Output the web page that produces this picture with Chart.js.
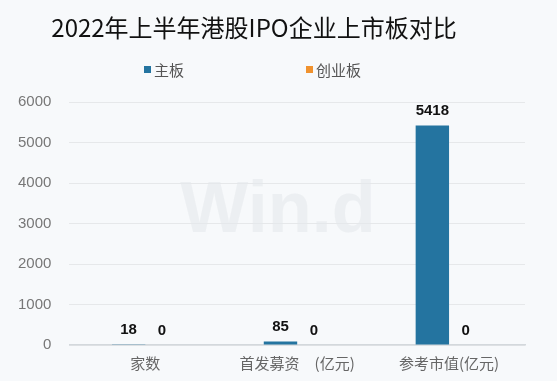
<!DOCTYPE html>
<html><head><meta charset="utf-8">
<script src="https://cdn.jsdelivr.net/npm/chart.js@4/dist/chart.umd.min.js"></script>
<style>html,body{margin:0;padding:0;background:#f7f9fb;}#wrap{width:557px;height:381px;position:relative;}</style>
</head><body><div id="wrap"><canvas id="c" width="557" height="381"></canvas></div>
<script>
const titleText = '2022年上半年港股IPO企业上市板对比';
const categories = ['家数', '首发募资　(亿元)', '参考市值(亿元)'];
const seriesNames = ['主板', '创业板'];
const mainBoard = [18, 85, 5418];
const gemBoard = [0, 0, 0];
const yTicks = [0, 1000, 2000, 3000, 4000, 5000, 6000];
const colors = ['#2474a0', '#f0922e'];

const deco = {
  id: 'deco',
  beforeDatasetsDraw(chart) {
    const ctx = chart.ctx;
    ctx.save();
    ctx.fillStyle = 'rgba(228,231,235,0.55)';
    ctx.font = 'bold 72px "Liberation Sans", Arial, sans-serif';
    ctx.textAlign = 'center';
    ctx.textBaseline = 'middle';
    ctx.fillText('Win.d', 278, 212);
    ctx.restore();
  },
  afterDraw(chart) {
    const ctx = chart.ctx;
    ctx.save();
    ctx.fillStyle = '#111';
    ctx.font = '24px "Noto Sans CJK SC", sans-serif';
    ctx.textAlign = 'center';
    ctx.textBaseline = 'middle';
    ctx.fillText(titleText, 254, 28);
    // legend
    ctx.font = '15px "Noto Sans CJK SC", sans-serif';
    ctx.textAlign = 'left';
    const lx = [144, 306];
    chart.data.datasets.forEach((ds, i) => {
      ctx.fillStyle = ds.backgroundColor;
      ctx.fillRect(lx[i], 66, 7, 7);
      ctx.fillStyle = '#555';
      ctx.fillText(ds.label, lx[i] + 10, 70);
    });
    // data labels
    ctx.fillStyle = '#111';
    ctx.font = 'bold 15px "Liberation Sans", Arial, sans-serif';
    ctx.textAlign = 'center';
    ctx.textBaseline = 'bottom';
    chart.data.datasets.forEach((ds, i) => {
      chart.getDatasetMeta(i).data.forEach((bar, j) => {
        ctx.fillText(String(ds.data[j]), bar.x, bar.y - 7);
      });
    });
    ctx.restore();
  }
};

new Chart(document.getElementById('c'), {
  type: 'bar',
  data: {
    labels: categories,
    datasets: [
      { label: seriesNames[0], data: mainBoard, backgroundColor: colors[0], categoryPercentage: 0.44, barPercentage: 1 },
      { label: seriesNames[1], data: gemBoard, backgroundColor: colors[1], categoryPercentage: 0.44, barPercentage: 1 }
    ]
  },
  options: {
    responsive: false,
    animation: false,
    layout: { padding: { top: 102, right: 32, left: 0, bottom: 8 } },
    plugins: { legend: { display: false }, title: { display: false }, tooltip: { enabled: false } },
    scales: {
      x: {
        grid: { display: false },
        border: { display: true, color: '#d3d8dc', width: 1.5 },
        ticks: { color: '#666', font: { size: 15, family: '"Noto Sans CJK SC", sans-serif' }, padding: 1 }
      },
      y: {
        min: 0, max: 6000,
        afterBuildTicks(axis) { axis.ticks = yTicks.map(v => ({ value: v })); },
        grid: { color: '#e6e8ea', drawTicks: false },
        border: { display: false },
        ticks: { color: '#777', font: { size: 15, family: '"Liberation Sans", Arial, sans-serif' }, padding: 18,
          callback: (v) => String(v) }
      }
    }
  },
  plugins: [deco]
});
</script></body></html>
